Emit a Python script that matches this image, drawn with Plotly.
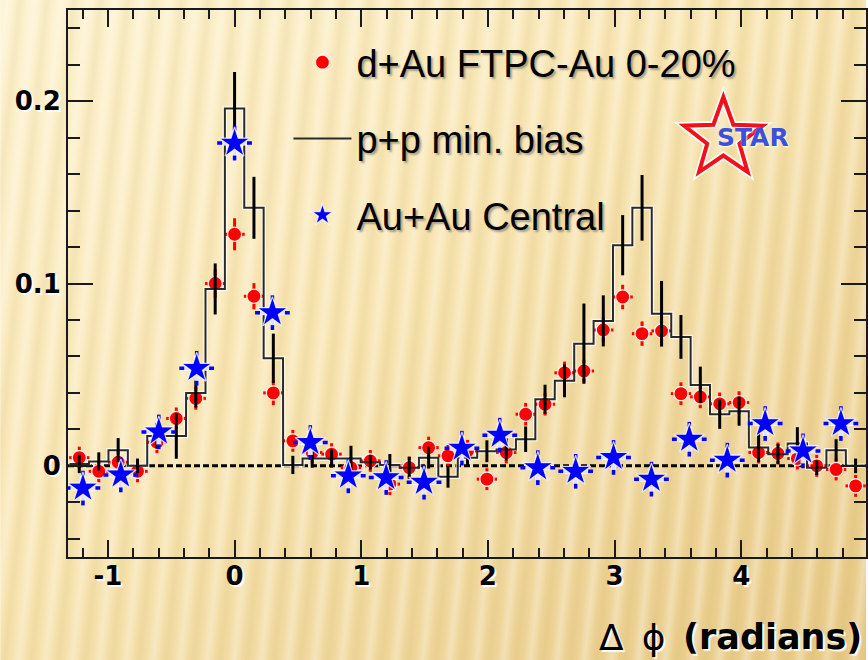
import base64
import numpy as np
import plotly.graph_objects as go

# ---------------- data ----------------
# fine binning (d+Au and p+p), bin centres in radians
dphi_fine = [-1.226, -1.072, -0.919, -0.766, -0.613, -0.460, -0.306, -0.153, 0.000,
             0.153, 0.306, 0.460, 0.613, 0.766, 0.919, 1.072, 1.226, 1.379, 1.532,
             1.685, 1.839, 1.992, 2.145, 2.298, 2.451, 2.605, 2.758, 2.911, 3.064,
             3.217, 3.371, 3.524, 3.677, 3.830, 3.983, 4.137, 4.290, 4.443, 4.596,
             4.749, 4.903]

dau_y = [0.0045, -0.003, 0.002, -0.003, 0.013, 0.026, 0.037, 0.100, 0.127, 0.093, 0.040,
         0.0137, 0.0073, 0.0064, -0.001, 0.0027, -0.010, -0.001, 0.010,
         0.0055, 0.0082, -0.0073, 0.0073, 0.0283, 0.0338,
         0.051, 0.052, 0.0745, 0.0926, 0.0725, 0.074, 0.0396, 0.0378, 0.034, 0.0347,
         0.0073, 0.0068, 0.004, 0.0, -0.002, -0.011]
dau_err = [0.006, 0.006, 0.006, 0.006, 0.006, 0.006, 0.0062, 0.0078, 0.0088, 0.0072, 0.0067,
           0.006, 0.006, 0.006, 0.006, 0.006, 0.006, 0.006, 0.006,
           0.006, 0.006, 0.006, 0.006, 0.0062, 0.0062, 0.0062, 0.0062,
           0.0067, 0.0067, 0.0067, 0.0067,
           0.0062, 0.0062, 0.0062, 0.0062, 0.006, 0.006, 0.006, 0.006, 0.006, 0.006]
dau_xerr = 0.08

pp_y = [0.001, 0.0024, 0.0086, 0.0, 0.0164, 0.0164, 0.040, 0.097, 0.196, 0.1415, 0.059,
        0.0005, 0.004, 0.004, 0.004, 0.002, 0.0005, -0.001, 0.0045, -0.006, 0.0045,
        0.008, 0.009, 0.0146, 0.0365, 0.0466, 0.067, 0.0795, 0.121, 0.1415, 0.0834,
        0.0707, 0.0444, 0.0283, 0.030, 0.010, 0.0064, 0.0122, -0.001, 0.0086, 0.0]
pp_err = [0.005, 0.005, 0.0066, 0.004, 0.007, 0.0125, 0.008, 0.014, 0.020, 0.017, 0.0135,
          0.005, 0.005, 0.005, 0.007, 0.004, 0.006, 0.006, 0.006, 0.006, 0.005,
          0.006, 0.006, 0.007, 0.008, 0.009, 0.022, 0.014, 0.0165, 0.018, 0.018,
          0.012, 0.010, 0.008, 0.008, 0.008, 0.0055, 0.009, 0.004, 0.006, 0.004]

# coarse binning (Au+Au)
dphi_auau = [-1.197, -0.898, -0.598, -0.299, 0.000, 0.299, 0.598, 0.898, 1.197, 1.496,
             1.795, 2.094, 2.394, 2.693, 2.992, 3.291, 3.590, 3.890, 4.189, 4.488, 4.787]
auau_y = [-0.0122, -0.005, 0.0186, 0.0535, 0.177, 0.084, 0.0128, -0.0055, -0.0064, -0.009,
          0.0097, 0.0168, -0.001, -0.003, 0.0046, -0.0073, 0.0146, 0.0031, 0.0232, 0.0082,
          0.0232]
auau_err = 0.0095
auau_xerr = 0.137

x_ticks = [-1, 0, 1, 2, 3, 4]
x_ticktext = ["-1", "0", "1", "2", "3", "4"]
y_ticks = [0, 0.1, 0.2]
y_ticktext = ["0", "0.1", "0.2"]

# ---------------- figure geometry ----------------
W, H = 868, 660
ML, MR, MT, MB = 68, 0, 10, 103
PW, PH = W - ML - MR, H - MT - MB
XR = [-1.315, 4.985]
YR = [-0.05, 0.25]
PX_PER_X = PW / (XR[1] - XR[0])
PX_PER_Y = PH / (YR[1] - YR[0])


def px2paper(px, py):
    return (px - ML) / PW, (H - MB - py) / PH


# ---------------- background (slide gradient with soft stripes) ----------------
svg = f'''<svg xmlns="http://www.w3.org/2000/svg" width="{W}" height="{H}" viewBox="0 0 {W} {H}" preserveAspectRatio="none">
<defs>
<linearGradient id="g" x1="0" y1="0" x2="1" y2="1">
<stop offset="0" stop-color="#FDF3D1"/>
<stop offset="0.45" stop-color="#F8E5B2"/>
<stop offset="1" stop-color="#E7C986"/>
</linearGradient>
<linearGradient id="s" x1="0" y1="0" x2="1" y2="0">
<stop offset="0" stop-color="#ffffff" stop-opacity="0"/>
<stop offset="0.5" stop-color="#ffffff" stop-opacity="0.30"/>
<stop offset="1" stop-color="#ffffff" stop-opacity="0"/>
</linearGradient>
<linearGradient id="d" x1="0" y1="0" x2="1" y2="0">
<stop offset="0" stop-color="#b08a30" stop-opacity="0"/>
<stop offset="0.5" stop-color="#b08a30" stop-opacity="0.09"/>
<stop offset="1" stop-color="#b08a30" stop-opacity="0"/>
</linearGradient>
<pattern id="p" width="27" height="{H}" patternUnits="userSpaceOnUse" patternTransform="skewX(-6)">
<rect x="0" y="0" width="14" height="{H}" fill="url(#s)"/>
<rect x="13" y="0" width="14" height="{H}" fill="url(#d)"/>
</pattern>
</defs>
<rect width="{W}" height="{H}" fill="url(#g)"/>
<rect x="-200" width="{W + 400}" height="{H}" fill="url(#p)"/>
</svg>'''
bg_src = "data:image/svg+xml;base64," + base64.b64encode(svg.encode()).decode()

# ---------------- traces ----------------
xc = np.array(dphi_fine)
bw = float(np.median(np.diff(xc)))
step_x = np.ravel(np.column_stack([xc - bw / 2, xc + bw / 2]))
step_y = np.repeat(np.array(pp_y), 2)

# gap (in px) between a marker and the visible part of its error bar, as in ROOT
RED_GAP_PX, BLUE_GAP_PX = 7.5, 12.5
HALO = "rgba(255,255,255,0.88)"

fig = go.Figure()

# white halo under the p+p histogram
fig.add_trace(go.Scatter(x=step_x, y=step_y, mode="lines", showlegend=False,
                         hoverinfo="skip",
                         line=dict(color="rgba(255,255,255,0.75)", width=4.5)))

# d+Au : full red error bars, then white inner part + markers
fig.add_trace(go.Scatter(
    x=dphi_fine, y=dau_y, mode="markers", showlegend=False, hoverinfo="skip",
    marker=dict(size=1, color="rgba(0,0,0,0)"),
    error_y=dict(type="data", array=dau_err, visible=True, color="#ff0000",
                 thickness=3, width=0),
    error_x=dict(type="constant", value=dau_xerr, visible=True, color="#ff0000",
                 thickness=3, width=0),
))
fig.add_trace(go.Scatter(
    x=dphi_fine, y=dau_y, mode="markers", name="d+Au FTPC-Au 0-20%", legendgroup="a",
    marker=dict(symbol="circle", size=14, color="#ff0000",
                line=dict(color="rgba(255,255,255,0.85)", width=1.2)),
    error_y=dict(type="constant", value=RED_GAP_PX / PX_PER_Y, visible=True,
                 color=HALO, thickness=4.5, width=0),
    error_x=dict(type="constant", value=RED_GAP_PX / PX_PER_X, visible=True,
                 color=HALO, thickness=4.5, width=0),
))

# p+p histogram
fig.add_trace(go.Scatter(x=step_x, y=step_y, mode="lines", name="p+p min. bias",
                         legendgroup="b", line=dict(color="#2a2a2a", width=2)))
fig.add_trace(go.Scatter(
    x=dphi_fine, y=pp_y, mode="markers", showlegend=False, legendgroup="b",
    hoverinfo="skip",
    marker=dict(size=1, color="rgba(0,0,0,0)"),
    error_y=dict(type="data", array=pp_err, visible=True, color="#000000",
                 thickness=3, width=0),
))

# Au+Au : full blue error bars, then white inner part + star markers
fig.add_trace(go.Scatter(
    x=dphi_auau, y=auau_y, mode="markers", showlegend=False, hoverinfo="skip",
    marker=dict(size=1, color="rgba(0,0,0,0)"),
    error_y=dict(type="constant", value=auau_err, visible=True, color="#0000ff",
                 thickness=3.5, width=0),
    error_x=dict(type="constant", value=auau_xerr, visible=True, color="#0000ff",
                 thickness=3.5, width=0),
))
fig.add_trace(go.Scatter(
    x=dphi_auau, y=auau_y, mode="markers", name="Au+Au Central", legendgroup="c",
    marker=dict(symbol="star", size=23, color="#0000ff",
                line=dict(color="rgba(255,255,255,0.8)", width=1.2)),
    error_y=dict(type="constant", value=BLUE_GAP_PX / PX_PER_Y, visible=True,
                 color=HALO, thickness=5, width=0),
    error_x=dict(type="constant", value=BLUE_GAP_PX / PX_PER_X, visible=True,
                 color=HALO, thickness=5, width=0),
))

# ---------------- STAR logo (decoration) ----------------
cx, cy, R_out, R_in = 725, 138.5, 41.5, 17.0
ang = np.deg2rad(np.arange(10) * 36.0)
rad = np.where(np.arange(10) % 2 == 0, R_out, R_in)
sx = cx + rad * np.sin(ang)
sy = cy - rad * np.cos(ang)
pts = [px2paper(a, b) for a, b in zip(sx, sy)]
star_path = "M " + " L ".join(f"{p[0]:.5f},{p[1]:.5f}" for p in pts) + " Z"

shapes = [
    dict(type="line", xref="paper", x0=0, x1=1, yref="y", y0=0, y1=0,
         line=dict(color="#000000", width=3, dash="6px,3px"), layer="below"),
    dict(type="path", xref="paper", yref="paper", path=star_path,
         line=dict(color="rgba(255,255,255,0.9)", width=7.5), layer="above"),
    dict(type="path", xref="paper", yref="paper", path=star_path,
         line=dict(color="#f2101c", width=4), layer="above"),
]

tx, ty = px2paper(755, 137)
ax1x, ax1y = px2paper(598, 637)
ax2x, ax2y = px2paper(866, 637)
annotations = [
    dict(text="STAR", xref="paper", yref="paper", x=tx, y=ty, showarrow=False,
         xanchor="center", yanchor="middle",
         font=dict(family="DejaVu Sans", size=25, color="#3d50dc", weight="bold",
                   shadow="1px 1px 2px rgba(255,255,255,0.95)")),
    dict(text="Δ\u2002ϕ", xref="paper", yref="paper", x=ax1x, y=ax1y, showarrow=False,
         xanchor="left", yanchor="middle",
         font=dict(family="DejaVu Sans", size=36, color="black",
                   shadow="2px 2px 1px rgba(255,255,255,0.9)")),
    dict(text="(radians)", xref="paper", yref="paper", x=ax2x, y=ax2y, showarrow=False,
         xanchor="right", yanchor="middle",
         font=dict(family="DejaVu Sans", size=35, color="black", weight="bold",
                   shadow="2px 2px 1px rgba(255,255,255,0.9)")),
]

tickfont = dict(family="DejaVu Sans", size=26, color="black", weight="bold",
                shadow="2px 2px 1px rgba(255,255,255,0.95)")

lx, ly = px2paper(289, 31)

fig.update_layout(
    width=W, height=H,
    margin=dict(l=ML, r=MR, t=MT, b=MB, pad=0),
    paper_bgcolor="rgba(0,0,0,0)", plot_bgcolor="rgba(0,0,0,0)",
    images=[dict(source=bg_src, xref="paper", yref="paper",
                 x=-ML / PW, y=1 + MT / PH, sizex=W / PW, sizey=H / PH,
                 xanchor="left", yanchor="top", sizing="stretch", layer="below")],
    xaxis=dict(range=XR, showgrid=False, zeroline=False,
               showline=True, linecolor="#1a1a1a", linewidth=2, mirror="allticks",
               ticks="inside", ticklen=17, tickwidth=2, tickcolor="#1a1a1a",
               tickvals=x_ticks, ticktext=x_ticktext, tickfont=tickfont,
               ticklabelstandoff=-5,
               minor=dict(dtick=0.2, tick0=0, ticks="inside", ticklen=9, tickwidth=2,
                          tickcolor="#1a1a1a", showgrid=False)),
    yaxis=dict(range=YR, showgrid=False, zeroline=False,
               showline=True, linecolor="#1a1a1a", linewidth=2, mirror="allticks",
               ticks="inside", ticklen=25, tickwidth=2, tickcolor="#1a1a1a",
               tickvals=y_ticks, ticktext=y_ticktext, tickfont=tickfont,
               minor=dict(dtick=0.02, tick0=0, ticks="inside", ticklen=12, tickwidth=2,
                          tickcolor="#1a1a1a", showgrid=False)),
    legend=dict(x=lx, xanchor="left", y=ly, yanchor="top",
                bgcolor="rgba(0,0,0,0)", borderwidth=0,
                font=dict(family="Liberation Sans", size=38, color="black",
                          shadow="2px 2px 2px rgba(70,70,70,0.45)"),
                itemwidth=58, tracegroupgap=24, itemsizing="trace"),
    shapes=shapes,
    annotations=annotations,
    showlegend=True,
)

fig.write_html("out.html")
